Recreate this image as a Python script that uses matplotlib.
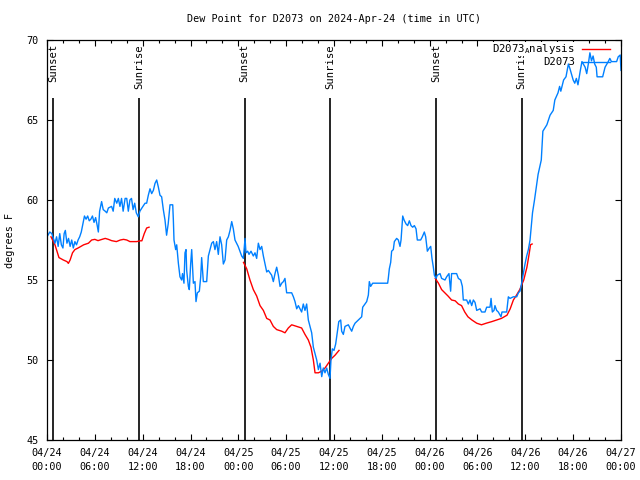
import numpy as np
import matplotlib
matplotlib.use("Agg")
import matplotlib.pyplot as plt

# ---------------- data ----------------
# hours since 2024-04-24 00:00 UTC
obs_hours = [0.0, 0.35, 0.6, 0.8, 1.0, 1.2, 1.4, 1.6, 1.8, 2.0, 2.15, 2.3, 2.5, 2.7, 2.9, 3.1, 3.3, 3.5, 3.7, 3.9,
             4.1, 4.3, 4.5, 4.7, 4.9, 5.1, 5.3, 5.5, 5.7, 5.9, 6.1, 6.3, 6.44, 6.6, 6.85, 7.05, 7.3, 7.5, 7.7, 8.1,
             8.3, 8.5, 8.75, 8.95, 9.15, 9.35, 9.55, 9.8, 10.0, 10.2, 10.4, 10.6, 10.8, 11.0, 11.2, 11.45, 11.65, 11.9, 12.3,
             12.5, 12.71, 12.92, 13.13, 13.34, 13.55, 13.76, 13.97, 14.17, 14.38, 14.59, 14.8, 15.0, 15.2, 15.43, 15.77,
             15.85, 15.93, 16.14, 16.27, 16.48, 16.68, 16.89, 17.0, 17.18, 17.31, 17.44, 17.52, 17.73, 17.85, 18.02,
             18.15, 18.36, 18.56, 18.69, 18.86, 19.11, 19.28, 19.4, 19.61, 20.03, 20.24, 20.45, 20.66, 20.87, 21.07,
             21.28, 21.49, 21.7, 21.91, 22.12, 22.33, 22.54, 22.75, 22.96, 23.17, 23.37, 23.58,
             23.98, 24.42, 24.63, 24.84, 24.96, 25.17, 25.34, 25.59, 25.88, 26.09, 26.3, 26.51, 26.72, 26.93, 27.14,
             27.35, 27.56, 27.76, 28.18, 28.39, 28.6, 28.81, 29.02, 29.23, 29.44, 29.65, 29.85, 30.06, 30.69, 30.9,
             31.11, 31.32, 31.53, 31.74, 31.94, 32.15, 32.36, 32.57, 32.78, 32.99, 33.2, 33.41, 33.62, 33.83, 34.04,
             34.25, 34.46, 34.66, 34.87, 35.08, 35.29, 35.5, 35.62, 35.79, 36.0, 36.21, 36.4, 36.6,
             36.84, 36.96, 37.17, 37.38, 37.8, 38.0, 38.22, 38.43, 38.64, 39.05, 39.26, 39.47, 39.6, 40.1, 40.31,
             40.43, 40.6, 40.85, 42.73, 42.81, 42.94, 43.11, 43.23, 43.44, 43.57, 43.86, 44.07, 44.28, 44.41, 44.62,
             44.79, 45.04, 45.24, 45.45, 45.66, 45.87, 46.08, 46.29, 46.45, 46.87, 47.08, 47.33, 47.5, 47.71, 47.96,
             48.13, 48.29, 48.46, 48.59, 48.8, 48.96, 49.3, 49.5, 49.92, 50.13, 50.42, 50.63, 50.75, 51.38, 51.6,
             51.89, 52.1, 52.22, 52.64, 52.85, 53.06, 53.27, 53.48, 53.69, 53.9, 54.32, 54.52, 54.94, 55.15, 55.57,
             55.7, 55.86, 56.07, 56.19, 56.4, 56.61, 56.95, 57.07, 57.66, 57.87, 58.08, 58.5, 58.92, 59.13, 59.33,
             59.54, 59.75, 59.96, 60.17, 60.38, 60.59, 60.9, 61.15, 61.6, 62.0, 62.2, 62.7, 63.1, 63.5, 63.7, 64.1,
             64.3, 64.45, 64.8, 65.1, 65.4, 65.6, 66.0, 66.2, 66.4, 66.6, 66.9, 67.1, 67.5, 67.7, 67.9, 68.1, 68.3,
             68.5, 68.7, 68.9, 69.0, 69.7, 70.0, 70.4, 70.6, 70.8, 71.45, 71.65, 71.9, 72.0]
obs_dewpt = [57.7, 58.0, 57.9, 57.6, 57.3, 57.7, 57.1, 57.9, 57.2, 57.0, 57.9, 58.1, 57.3, 57.6, 57.1, 57.5, 57.0, 57.4, 57.2, 57.5,
             57.7, 58.0, 58.5, 59.0, 58.8, 59.0, 58.7, 58.8, 59.0, 58.6, 58.9, 58.4, 58.0, 59.3, 59.9, 59.4, 59.3, 59.2, 59.5, 59.6,
             59.3, 60.1, 59.8, 60.1, 59.6, 60.1, 59.3, 60.1, 60.1, 59.3, 60.0, 60.1, 59.4, 59.8, 59.2, 58.95, 59.3, 59.5, 59.8,
             59.8, 60.3, 60.7, 60.4, 60.6, 61.04, 61.25, 60.8, 60.3, 60.2, 59.4, 58.75, 57.8, 58.5, 59.7, 59.7,
             58.75, 57.5, 56.9, 57.2, 56.04, 55.2, 55.0, 55.4, 54.8, 56.7, 56.9, 55.6, 54.6, 54.4, 56.0,
             56.9, 54.8, 54.9, 53.65, 54.2, 54.3, 55.2, 56.4, 54.9, 54.9, 56.5, 56.9, 57.3, 57.4, 56.9,
             57.4, 56.6, 57.7, 57.2, 56.0, 56.25, 57.5, 57.7, 58.1, 58.65, 58.2, 57.5,
             57.1, 56.5, 56.35, 57.6, 56.7, 56.8, 56.6, 56.8, 56.5, 56.7, 56.35, 57.3, 56.9, 57.1, 56.5,
             56.0, 55.5, 55.6, 55.3, 54.9, 55.4, 55.8, 55.3, 54.6, 54.8, 54.9, 55.1, 54.2, 54.2, 53.96,
             53.65, 53.2, 53.4, 53.2, 53.0, 53.5, 53.1, 53.5, 52.5, 52.1, 51.7, 50.8, 50.4, 50.0, 49.4,
             49.8, 48.96, 49.5, 49.2, 49.5, 49.1, 48.85, 50.0, 50.7, 50.6, 51.0, 51.7, 52.4,
             52.5, 51.8, 51.6, 52.1, 52.2, 52.0, 51.8, 52.1, 52.3, 52.5, 52.6, 52.7, 53.3, 53.65, 54.06,
             54.9, 54.6, 54.8, 54.8, 55.1, 55.7, 56.1, 56.8, 56.9, 57.4, 57.6, 57.5, 57.1, 57.5, 59.0,
             58.75, 58.5, 58.4, 58.7, 58.4, 58.3, 58.4, 58.2, 57.5, 57.5, 57.7, 58.0, 57.7, 56.8, 57.0,
             57.1, 56.35, 55.8, 55.3, 55.1, 55.3, 55.4, 55.1, 55.0, 55.2, 55.4, 54.3, 55.4, 55.4, 55.1,
             55.0, 54.6, 53.75, 53.75, 53.5, 53.75, 53.4, 53.75, 53.6, 53.1, 53.2, 53.0, 53.0, 53.3, 53.3,
             53.85, 53.0, 53.1, 53.4, 53.1, 53.0, 52.7, 53.0, 53.0, 53.95, 53.85, 53.95, 53.95, 54.2, 54.3,
             54.8, 55.4, 56.0, 56.5, 56.9, 57.5, 59.2, 60.0, 61.6, 62.5, 64.3, 64.7, 65.3, 65.6, 66.25, 66.7,
             67.1, 66.8, 67.5, 67.7, 68.5, 68.2, 67.5, 67.3, 67.6, 67.2, 68.1, 68.65, 68.3, 67.9, 68.5, 69.2, 68.7,
             69.0, 68.5, 68.3, 67.7, 67.7, 68.3, 68.65, 68.85, 68.65, 68.65, 68.95, 69.06, 68.1]

# analysis runs (NaN separates runs)
ana_hours = [0.5, 1.0, 1.25, 1.5, 2.05, 2.5, 2.68, 2.9, 3.2, 3.5, 3.9, 4.6, 5.2, 5.6, 6.0, 6.4, 6.9, 7.3, 7.7, 8.1,
             8.7, 9.2, 9.6, 10.0, 10.4, 10.8, 11.25, 11.7, 11.9, 12.2, 12.5, 12.8, np.nan,
             24.65, 25.05, 25.46, 25.88, 26.3, 26.72, 27.14, 27.56, 27.97, 28.39, 28.81, 29.44, 29.85, 30.27, 30.69,
             31.32, 31.94, 32.36, 32.78, 33.11, 33.41, 33.62, 34.04, 34.46, 34.87, 35.29, 35.71, 36.13, 36.63, np.nan,
             48.7, 49.1, 49.5, 49.9, 50.3, 50.75, 51.2, 51.6, 52.0, 52.4, 52.8, 53.3, 53.9, 54.5, 55.1, 55.8, 56.4,
             57.0, 57.7, 58.1, 58.5, 58.9, 59.3, 59.8, 60.2, 60.5, 60.65, 60.85]
ana_dewpt = [57.7, 57.2, 56.8, 56.4, 56.25, 56.15, 56.04, 56.25, 56.7, 56.9, 57.0, 57.2, 57.3, 57.5, 57.54, 57.46, 57.54, 57.6, 57.54, 57.46,
             57.4, 57.5, 57.54, 57.5, 57.4, 57.4, 57.4, 57.45, 57.45, 57.9, 58.25, 58.3, np.nan,
             56.1, 55.7, 55.0, 54.4, 54.0, 53.4, 53.1, 52.6, 52.5, 52.1, 51.9, 51.8, 51.7, 52.0, 52.2,
             52.1, 52.0, 51.6, 51.25, 50.8, 50.0, 49.2, 49.2, 49.3, 49.5, 49.8, 50.1, 50.3, 50.6, np.nan,
             55.1, 54.8, 54.4, 54.2, 54.0, 53.75, 53.7, 53.5, 53.4, 53.0, 52.7, 52.5, 52.3, 52.2, 52.3, 52.4, 52.5,
             52.6, 52.8, 53.2, 53.75, 54.06, 54.4, 55.0, 55.8, 56.7, 57.2, 57.25]

sun_hours = [0.77, 11.57, 24.78, 35.52, 48.8, 59.55]
sun_labels = ["Sunset", "Sunrise", "Sunset", "Sunrise", "Sunset", "Sunrise"]

xtick_hours = [0, 6, 12, 18, 24, 30, 36, 42, 48, 54, 60, 66, 72]
xtick_labels = ["04/24\n00:00", "04/24\n06:00", "04/24\n12:00", "04/24\n18:00",
                "04/25\n00:00", "04/25\n06:00", "04/25\n12:00", "04/25\n18:00",
                "04/26\n00:00", "04/26\n06:00", "04/26\n12:00", "04/26\n18:00",
                "04/27\n00:00"]
ytick_vals = [45, 50, 55, 60, 65, 70]

title = "Dew Point for D2073 on 2024-Apr-24 (time in UTC)"
ylabel = "degrees F"
legend_ana = "D2073$_{\\mathregular{A}}$nalysis"
legend_obs = "D2073"

# ---------------- style ----------------
FONT = "DejaVu Sans Mono"
FS = 7.3
plt.rcParams['font.family'] = [FONT]
plt.rcParams['mathtext.default'] = 'regular'
BLUE = "#0080ff"
RED = "#ff0000"

fig = plt.figure(figsize=(6.4, 4.8), dpi=100)
ax = fig.add_axes([47/640, 40/480, 574/640, 400/480])

ax.set_xlim(0, 72)
ax.set_ylim(45, 70)

# sunrise / sunset markers
ax.vlines(sun_hours, 45, 66.4, colors='black', linewidth=1.2, zorder=1)
for h, lab in zip(sun_hours, sun_labels):
    ax.text(h, 69.75, lab, rotation=90, ha='center', va='top', fontsize=FS + 0.3, zorder=3)

ax.plot(ana_hours, ana_dewpt, color=RED, linewidth=1.0, zorder=2)
ax.plot(obs_hours, obs_dewpt, color=BLUE, linewidth=1.0, zorder=2.5)

# ticks
ax.set_xticks(xtick_hours)
ax.set_xticklabels(xtick_labels, fontsize=FS, linespacing=1.5)
ax.set_xticks(np.arange(0, 73, 2), minor=True)
ax.set_yticks(ytick_vals)
ax.set_yticklabels([str(v) for v in ytick_vals], fontsize=FS)
ax.tick_params(which='both', direction='in', top=True, right=True, width=0.8)
ax.tick_params(which='major', length=4)
ax.tick_params(which='minor', length=2.5)
ax.tick_params(axis='x', which='major', pad=6)
ax.tick_params(axis='y', which='major', pad=6)
for s in ax.spines.values():
    s.set_linewidth(0.9)

fig.text(334/640, 1 - 19/480, title, ha='center', va='center', fontsize=FS)
fig.text(10/640, 0.5, ylabel, rotation=90, ha='center', va='center', fontsize=FS)

# legend (gnuplot style: text left of sample, opaque text background)
ax.text(0.9199, 0.9768, legend_ana, transform=ax.transAxes, ha='right', va='center', fontsize=FS + 0.4,
        zorder=5, bbox=dict(facecolor='white', edgecolor='none', pad=0.0))
ax.plot([0.9315, 0.9808], [0.9768, 0.9768], transform=ax.transAxes, color=RED, linewidth=1.0, zorder=5)
ax.text(0.9199, 0.944, legend_obs, transform=ax.transAxes, ha='right', va='center', fontsize=FS + 0.4, zorder=5)
ax.plot([0.9315, 0.9808], [0.944, 0.944], transform=ax.transAxes, color=BLUE, linewidth=1.0, zorder=5)

fig.savefig("out.png", dpi=100)
